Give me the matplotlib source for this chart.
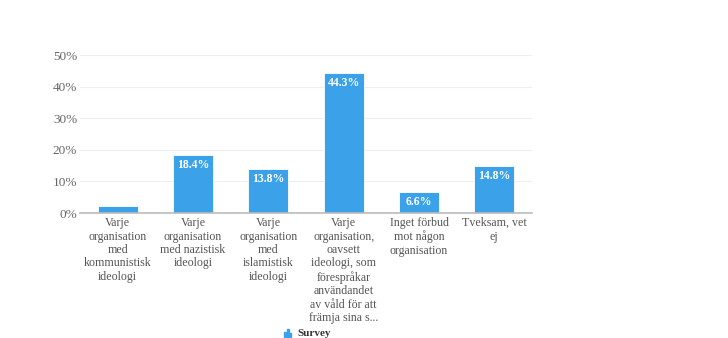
import matplotlib.pyplot as plt
from matplotlib.patches import Rectangle

# data
categories = [
    "Varje\norganisation\nmed\nkommunistisk\nideologi",
    "Varje\norganisation\nmed nazistisk\nideologi",
    "Varje\norganisation\nmed\nislamistisk\nideologi",
    "Varje\norganisation,\noavsett\nideologi, som\nförespråkar\nanvändandet\nav våld för att\nfrämja sina s...",
    "Inget förbud\nmot någon\norganisation",
    "Tveksam, vet\nej",
]
values = [2.2, 18.4, 13.8, 44.3, 6.6, 14.8]
show_label = [False, True, True, True, True, True]
yticks = [0, 10, 20, 30, 40, 50]
series_name = "Survey"

bar_color = "#3ba1e9"
plt.rcParams['font.family'] = ['Liberation Serif', 'DejaVu Serif']

fig = plt.figure(figsize=(7.28, 3.38), dpi=100)
ax = fig.add_axes([80 / 728, 1 - 213 / 338, 452 / 728, 158 / 338])

x = range(len(categories))
bars = ax.bar(x, values, width=0.53, color=bar_color, edgecolor="white", linewidth=0.6, zorder=3)

for b, v, s in zip(bars, values, show_label):
    if s:
        ax.text(b.get_x() + b.get_width() / 2, v - 1.2, f"{v:.1f}%",
                ha="center", va="top", color="white", fontsize=8.5, fontweight="bold", zorder=4)

ax.set_xlim(-0.5, len(categories) - 0.5)
ax.set_ylim(0, 50)
ax.set_yticks(yticks)
ax.set_yticklabels([f"{t}%" for t in yticks], color="#666666", fontsize=9.5)
ax.set_xticks(list(x))
ax.set_xticklabels(categories, color="#555555", fontsize=8.6, linespacing=1.16, va="top")
ax.tick_params(axis="both", length=0)
ax.tick_params(axis="x", pad=3)
ax.tick_params(axis="y", pad=2)

ax.grid(axis="y", color="#eeeeee", linewidth=0.8, zorder=0)
for side in ["top", "right", "left"]:
    ax.spines[side].set_visible(False)
ax.spines["bottom"].set_color("#bbbbbb")
ax.spines["bottom"].set_linewidth(1.2)
ax.spines["bottom"].set_zorder(5)

# legend at the bottom edge
for i, h in enumerate([5, 8, 4]):
    fig.add_artist(Rectangle(((284 + i * 2.5) / 728, 1 / 338),
                             2 / 728, h / 338, transform=fig.transFigure,
                             color=bar_color))
fig.text(297 / 728, 0 / 338, series_name, fontsize=8, color="#333333",
         fontweight="bold", ha="left", va="bottom")

fig.savefig("out.png", dpi=100)
